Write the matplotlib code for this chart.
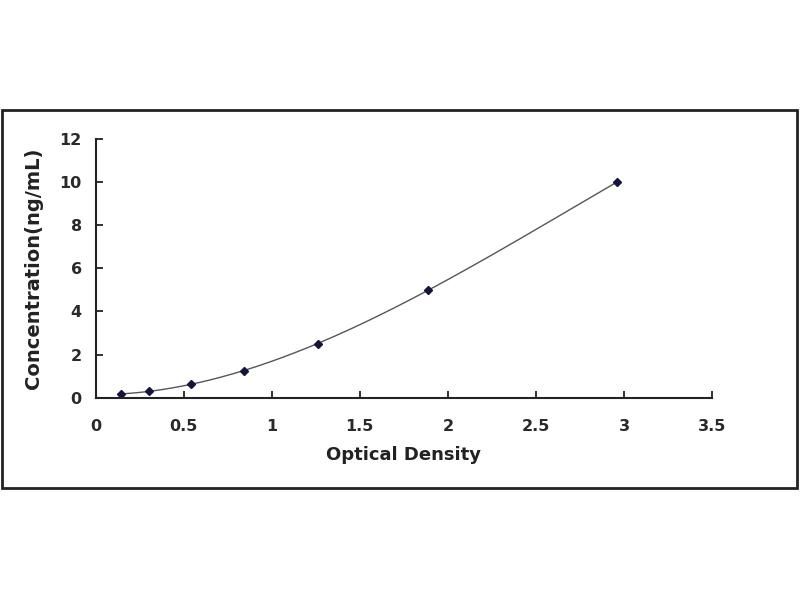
"""Standard curve: Concentration vs Optical Density."""
import numpy as np
import matplotlib
matplotlib.use('Agg')
import matplotlib.pyplot as plt
from matplotlib.patches import Rectangle

# data
od = [0.145, 0.30, 0.54, 0.84, 1.26, 1.89, 2.96]
conc = [0.156, 0.312, 0.625, 1.25, 2.5, 5.0, 10.0]
x_ticks = [0, 0.5, 1, 1.5, 2, 2.5, 3, 3.5]
x_ticklabels = ['0', '0.5', '1', '1.5', '2', '2.5', '3', '3.5']
y_ticks = [0, 2, 4, 6, 8, 10, 12]

plt.rcParams['font.family'] = ['DejaVu Sans']

fig = plt.figure(figsize=(8, 6), dpi=100, facecolor='white')
ax = fig.add_axes([0.1196, 0.3372, 0.7704, 0.4312])

# smooth fitted curve through the standards
coef = np.polyfit(od, conc, 3)
xs = np.linspace(min(od), max(od), 200)
ax.plot(xs, np.polyval(coef, xs), color='#55555f', lw=1.0)
ax.plot(od, conc, linestyle='none', marker='D', markersize=4,
        color='#14143c')

ax.set_xlim(0, 3.5)
ax.set_ylim(0, 12)
ax.set_xticks(x_ticks)
ax.set_xticklabels(x_ticklabels)
ax.set_yticks(y_ticks)
ax.tick_params(direction='in', length=5, width=1.3, color='#222222',
               labelsize=11.5)
ax.tick_params(axis='x', pad=15)
ax.tick_params(axis='y', pad=10)
for lab in ax.get_xticklabels() + ax.get_yticklabels():
    lab.set_fontweight('bold')
    lab.set_color('#2a2a2a')

ax.spines['top'].set_visible(False)
ax.spines['right'].set_visible(False)
for s in ('left', 'bottom'):
    ax.spines[s].set_linewidth(1.5)
    ax.spines[s].set_color('#222222')

ax.set_xlabel('Optical Density', fontsize=13, fontweight='bold',
              color='#222222', labelpad=9)
ax.set_ylabel('Concentration(ng/mL)', fontsize=14, fontweight='bold',
              color='#222222', labelpad=12)

# outer frame around the chart
fig.patches.append(Rectangle((0.0025, 0.1867), 0.99375, 0.63,
                             transform=fig.transFigure, fill=False,
                             edgecolor='#222222', linewidth=2))

fig.savefig('out.png', dpi=100, facecolor='white')
plt.close(fig)
